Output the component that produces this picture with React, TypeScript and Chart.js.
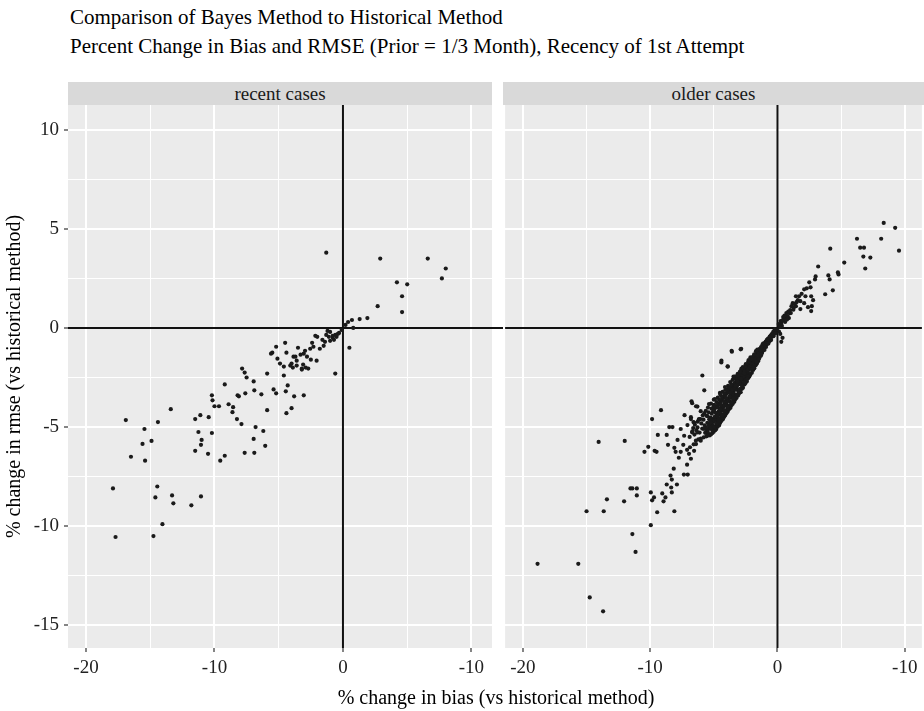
import React, { useEffect, useRef } from "react";
import { Chart, registerables } from "chart.js";

Chart.register(...registerables);

// ---------- text ----------
const TITLE = "Comparison of Bayes Method to Historical Method";
const SUBTITLE = "Percent Change in Bias and RMSE (Prior = 1/3 Month), Recency of 1st Attempt";
const PANEL_LABELS = ["recent cases", "older cases"];
const X_TITLE = "% change in bias (vs historical method)";
const Y_TITLE = "% change in rmse (vs historical method)";

// ---------- axes ----------
const X_TICKS = [-20, -10, 0, 10];
const X_TICK_LABELS = ["-20", "-10", "0", "-10"];
const X_MINOR = [-15, -5, 5];
const Y_TICKS = [-15, -10, -5, 0, 5, 10];
const Y_TICK_LABELS = ["-15", "-10", "-5", "0", "5", "10"];
const Y_MINOR = [-12.5, -7.5, -2.5, 2.5, 7.5];
const X_MIN = -21.4;
const X_MAX_LEFT = 11.6;
const X_MAX_RIGHT = 11.35;
const Y_MIN = -16.15;
const Y_MAX = 11.25;

// ---------- data: [% change in bias, % change in rmse] ----------
const recentPoints: [number, number][] = [
  [-1.3, 3.8], [2.9, 3.5], [6.6, 3.5], [8.0, 3.0], [7.7, 2.5], [4.2, 2.3], [5.0, 2.2], [4.6, 1.6],
  [4.6, 0.8], [2.7, 1.1], [1.9, 0.5], [1.3, 0.45], [0.7, 0.4], [0.4, 0.3], [0.2, 0.15], [0.8, 0.0],
  [0.5, -1.0], [-0.6, -2.3], [-0.1, -0.1], [-0.3, -0.25], [-0.4, -0.3], [-0.6, -0.35], [-0.8, -0.4],
  [-1.0, -0.2], [-0.8, -0.5], [-1.1, -0.45], [-1.0, -0.65], [-1.2, -0.15], [-1.4, -0.7], [-1.5, -0.9],
  [-1.8, -1.05], [-2.0, -0.45], [-2.15, -0.4], [-2.3, -0.95], [-2.55, -1.05], [-2.95, -1.15],
  [-3.05, -1.3], [-2.8, -1.45], [-2.05, -1.65], [-3.2, -2.05], [-3.6, -1.65], [-3.85, -1.45],
  [-4.0, -1.8], [-4.5, -0.75], [-4.4, -1.25], [-5.1, -1.55], [-4.9, -1.8], [-5.5, -1.25], [-5.2, -0.95],
  [-5.6, -1.3], [-4.6, -1.95], [-3.1, -1.85], [-2.7, -2.05], [-3.2, -2.1], [-3.3, -1.35], [-3.7, -1.45],
  [-4.1, -1.9], [-4.6, -2.4], [-5.9, -2.3], [-7.85, -2.05], [-7.65, -2.25], [-7.5, -2.5], [-9.2, -2.85],
  [-6.95, -2.7], [-6.35, -3.35], [-6.9, -3.15], [-7.6, -3.3], [-8.2, -3.4], [-8.1, -3.45], [-5.4, -3.1],
  [-5.2, -3.3], [-4.3, -2.9], [-4.45, -3.2], [-3.8, -3.45], [-3.05, -3.4], [-4.0, -4.05], [-4.4, -4.3],
  [-5.9, -4.15], [-10.2, -3.4], [-10.15, -3.65], [-10.0, -3.95], [-9.65, -3.95], [-8.9, -3.85],
  [-8.55, -4.0], [-8.6, -4.25], [-8.25, -4.6], [-7.9, -4.85], [-13.4, -4.1], [-16.9, -4.65],
  [-14.4, -4.75], [-15.45, -5.1], [-14.9, -5.7], [-15.6, -5.85], [-16.5, -6.5], [-15.4, -6.7],
  [-11.5, -4.6], [-11.1, -4.4], [-10.45, -4.5], [-11.25, -5.25], [-10.2, -5.3], [-11.0, -5.65],
  [-11.05, -5.9], [-11.5, -6.2], [-10.5, -6.35], [-9.55, -6.7], [-9.2, -6.45], [-7.65, -6.3],
  [-6.9, -6.3], [-6.8, -5.0], [-6.2, -5.2], [-6.95, -5.6], [-6.05, -5.95], [-17.9, -8.1],
  [-17.7, -10.55], [-14.45, -8.0], [-14.6, -8.55], [-13.3, -8.45], [-13.2, -8.85], [-11.8, -8.95],
  [-11.05, -8.5], [-14.05, -9.9], [-14.75, -10.5],
  [-0.5, -0.45], [-0.7, -0.6], [-1.3, -0.35], [-1.6, -0.6], [-2.4, -0.75], [-3.5, -1.0], [-2.5, -1.6],
  [-3.6, -1.9], [-3.9, -2.0], [-2.9, -2.0],
];

const olderUpper: [number, number][] = [
  [8.35, 5.3], [9.25, 5.05], [8.15, 4.5], [9.55, 3.9], [6.25, 4.5], [6.5, 4.05], [6.8, 4.05], [6.75, 3.6],
  [7.3, 3.55], [6.9, 3.0], [4.15, 4.0], [5.25, 3.3], [3.2, 3.1], [4.0, 2.65], [4.1, 2.45], [4.75, 2.8],
  [4.8, 2.7], [3.75, 1.7], [4.35, 1.9], [2.95, 2.45], [2.6, 2.05], [2.3, 2.0], [2.1, 1.95], [2.65, 1.6],
  [2.8, 1.4], [2.65, 0.85], [2.1, 1.25], [2.4, 1.05], [1.7, 1.6], [1.45, 1.6], [1.2, 1.25], [1.3, 1.05],
  [1.8, 0.95], [0.95, 0.75], [2.2, 1.6], [1.8, 1.35], [1.45, 1.1], [1.05, 0.75], [0.65, 0.5], [0.3, 0.25],
  [2.7, 1.1], [0.4, -0.5], [0.3, -0.7], [2.5, 2.3], [3.0, 2.6], [1.6, 1.4], [1.0, 0.9], [0.8, 0.6],
  [0.5, 0.45], [0.6, 0.3], [0.2, 0.1], [0.1, 0.2], [0.35, 0.1], [0.9, 0.5], [1.1, 1.1], [1.5, 1.3],
  [0.7, 0.75], [0.45, 0.55], [0.25, 0.35], [0.55, 0.62], [0.85, 0.82], [1.25, 0.92], [0.15, 0.05],
  [0.4, 0.38], [0.75, 0.42], [1.35, 1.22], [1.9, 1.72], [0.12, -0.18], [0.22, -0.3],
];

const olderCore: [number, number][] = [
  [-0.05, -0.08], [-0.12, -0.1], [-0.18, -0.22], [-0.22, -0.12], [-0.28, -0.31], [-0.33, -0.2],
  [-0.36, -0.39], [-0.41, -0.28], [-0.47, -0.46], [-0.52, -0.37], [-0.55, -0.58], [-0.61, -0.44],
  [-0.66, -0.63], [-0.7, -0.52], [-0.76, -0.74], [-0.81, -0.6], [-0.86, -0.83], [-0.92, -0.69],
  [-0.97, -0.94], [-1.02, -0.77], [-0.2, -0.06], [-0.31, -0.42], [-0.44, -0.33], [-0.63, -0.67],
  [-0.77, -0.56], [-0.9, -0.96], [-1.06, -1.04], [-0.16, -0.27], [-0.5, -0.61], [-0.84, -0.62],
  [-1.08, -0.88], [-1.12, -1.12], [-1.17, -0.92], [-1.21, -1.24], [-1.26, -1.01], [-1.31, -1.4],
  [-1.34, -1.12], [-1.41, -1.49], [-1.46, -1.16], [-1.52, -1.68], [-1.56, -1.27], [-1.61, -1.79],
  [-1.67, -1.31], [-1.71, -1.88], [-1.76, -1.42], [-1.82, -2.04], [-1.86, -1.51], [-1.91, -2.12],
  [-1.96, -1.57], [-2.01, -2.26], [-1.13, -0.79], [-1.29, -0.97], [-1.44, -1.42], [-1.62, -1.21],
  [-1.74, -1.77], [-1.92, -1.46], [-1.24, -1.27], [-1.57, -1.49], [-1.84, -1.72], [-1.39, -1.06],
  [-1.69, -1.17], [-1.19, -0.86], [-2.06, -1.67], [-2.11, -2.33], [-2.14, -1.76], [-2.21, -2.45],
  [-2.26, -1.84], [-2.29, -2.52], [-2.36, -1.92], [-2.41, -2.7], [-2.44, -2.01], [-2.51, -2.78],
  [-2.56, -2.09], [-2.59, -2.85], [-2.66, -2.17], [-2.71, -3.02], [-2.74, -2.24], [-2.81, -3.08],
  [-2.86, -2.32], [-2.89, -3.24], [-2.96, -2.41], [-3.01, -3.3], [-2.12, -1.48], [-2.31, -1.72],
  [-2.49, -1.83], [-2.72, -1.98], [-2.88, -2.17], [-2.19, -2.02], [-2.42, -2.19], [-2.61, -2.37],
  [-2.79, -2.49], [-3.02, -2.62], [-2.34, -2.36], [-2.64, -2.61], [-2.94, -2.84], [-2.24, -2.28],
  [-2.54, -2.52], [-2.84, -2.79], [-3.06, -2.52], [-3.09, -3.41], [-3.16, -2.58], [-3.21, -3.52],
  [-3.24, -2.71], [-3.31, -3.6], [-3.36, -2.77], [-3.39, -3.73], [-3.46, -2.84], [-3.51, -3.82],
  [-3.54, -2.96], [-3.61, -3.9], [-3.66, -3.02], [-3.69, -4.03], [-3.76, -3.09], [-3.81, -4.1],
  [-3.84, -3.21], [-3.91, -4.22], [-3.96, -3.29], [-4.01, -4.31], [-3.12, -2.31], [-3.29, -2.44],
  [-3.52, -2.62], [-3.71, -2.73], [-3.88, -2.92], [-3.19, -2.96], [-3.44, -3.21], [-3.67, -3.38],
  [-3.86, -3.57], [-3.34, -3.36], [-3.74, -3.72], [-3.14, -3.12], [-3.56, -3.48], [-3.96, -3.9],
  [-4.06, -3.36], [-4.11, -4.42], [-4.14, -3.44], [-4.21, -4.5], [-4.26, -3.52], [-4.29, -4.61],
  [-4.36, -3.61], [-4.41, -4.7], [-4.44, -3.72], [-4.51, -4.8], [-4.56, -3.79], [-4.59, -4.92],
  [-4.66, -3.86], [-4.71, -4.98], [-4.74, -3.96], [-4.81, -5.1], [-4.86, -4.02], [-4.89, -5.16],
  [-4.96, -4.11], [-5.01, -5.24], [-4.12, -2.98], [-4.31, -3.22], [-4.52, -3.28], [-4.69, -3.52],
  [-4.91, -3.59], [-4.19, -3.87], [-4.42, -4.03], [-4.62, -4.22], [-4.79, -4.41], [-5.02, -4.58],
  [-4.24, -4.18], [-4.48, -4.37], [-4.76, -4.68], [-5.06, -4.21], [-5.11, -5.3], [-5.16, -4.33],
  [-5.21, -5.36], [-5.27, -4.52], [-5.31, -5.42], [-5.36, -4.61], [-5.42, -5.38], [-5.51, -4.79],
  [-5.58, -5.47], [-5.71, -4.92], [-5.79, -5.52], [-5.91, -5.08], [-6.02, -5.58], [-5.22, -3.82],
  [-5.46, -4.02], [-5.63, -4.18], [-5.87, -4.41], [-5.3, -4.95], [-5.55, -5.12],
];

const olderFill: [number, number][] = [
  [-0.58, -0.5], [-0.73, -0.66], [-0.88, -0.77], [-0.99, -0.85], [-1.04, -0.93], [-1.15, -1.01],
  [-1.22, -1.08], [-1.33, -1.19], [-1.37, -1.27], [-1.48, -1.31], [-1.53, -1.38], [-1.64, -1.45],
  [-1.73, -1.56], [-1.79, -1.61], [-1.88, -1.63], [-1.94, -1.77], [-2.03, -1.84], [-2.09, -1.93],
  [-2.17, -1.96], [-2.23, -2.11], [-2.28, -2.06], [-2.39, -2.14], [-2.46, -2.29], [-2.53, -2.33],
  [-2.57, -2.42], [-2.68, -2.46], [-2.76, -2.57], [-2.83, -2.62], [-2.91, -2.69], [-2.98, -2.77],
  [-3.04, -2.83], [-3.11, -2.79], [-3.18, -2.88], [-3.26, -3.04], [-3.33, -3.09], [-3.41, -3.03],
  [-3.48, -3.29], [-3.53, -3.34], [-3.62, -3.26], [-3.68, -3.52], [-3.77, -3.46], [-3.83, -3.63],
  [-3.92, -3.68], [-3.99, -3.61], [-4.03, -3.79], [-4.13, -3.92], [-4.18, -3.71], [-4.27, -4.02],
  [-4.33, -3.93], [-4.38, -4.18], [-4.47, -4.11], [-4.53, -4.27], [-4.61, -4.04], [-4.67, -4.43],
  [-4.73, -4.31], [-4.84, -4.56], [-4.93, -4.49], [-4.98, -4.74], [-5.07, -4.66], [-5.14, -4.88],
  [-5.24, -4.79], [-5.33, -5.07], [-5.39, -4.93], [-5.48, -5.19], [-5.61, -5.04], [-5.68, -5.29],
  [-1.47, -1.58], [-1.66, -1.7], [-1.81, -1.93], [-1.99, -2.08], [-2.16, -2.38], [-2.33, -2.44],
  [-2.47, -2.62], [-2.63, -2.74], [-2.77, -2.94], [-2.93, -3.07], [-3.07, -3.22], [-3.23, -3.38],
  [-3.37, -3.51], [-3.49, -3.64], [-3.63, -3.79], [-3.79, -3.92], [-3.93, -4.06], [-4.08, -4.23],
  [-4.23, -4.36], [-4.39, -4.53], [-4.54, -4.67], [-4.68, -4.81], [-4.83, -4.94], [-4.97, -5.07],
  [-5.12, -5.16], [-1.58, -1.09], [-1.83, -1.33], [-2.04, -1.58], [-2.27, -1.62], [-2.53, -1.94],
  [-2.69, -2.09], [-2.83, -2.05], [-3.08, -2.41], [-3.27, -2.58], [-3.43, -2.52], [-3.63, -2.87],
  [-3.82, -3.04], [-3.98, -3.12], [-4.17, -3.31], [-4.39, -3.45], [-4.58, -3.62], [-4.79, -3.74],
  [-4.98, -3.88], [-5.19, -4.07], [-5.4, -4.26], [-5.58, -4.43], [-5.81, -4.63], [-5.98, -4.82],
  [-6.26, -4.73], [-6.37, -5.16], [-6.62, -5.05], [-1.27, -1.35], [-1.02, -1.11], [-0.71, -0.79],
  [-2.58, -2.21], [-3.13, -2.68], [-3.58, -3.12], [-4.04, -3.54], [-4.46, -3.88], [-4.87, -4.27],
  [-5.26, -4.64], [-2.37, -2.57], [-2.86, -2.56], [-3.3, -2.92], [-3.72, -3.27], [-4.15, -4.16],
  [-4.63, -4.58], [-5.05, -4.95], [-5.45, -5.32], [-1.9, -1.99], [-2.22, -1.72], [-2.62, -2.28],
  [-3.0, -3.12], [-3.45, -3.57], [-3.9, -3.98], [-4.32, -4.41], [-4.77, -4.85], [-5.18, -5.03],
];

const olderTail: [number, number][] = [
  [-6.12, -5.28], [-6.21, -5.62], [-6.28, -5.02], [-6.41, -5.69], [-6.52, -5.38], [-6.58, -5.87],
  [-6.69, -5.22], [-6.87, -6.02], [-6.18, -4.62], [-6.49, -4.88], [-3.6, -1.15], [-2.85, -1.05],
  [-4.4, -1.65], [-3.9, -1.95], [-5.9, -2.4], [-9.15, -4.15], [-9.85, -4.6], [-6.7, -3.8],
  [-12.0, -5.7], [-14.05, -5.75], [-10.45, -6.25], [-10.15, -6.0], [-9.65, -6.2], [-9.5, -6.25],
  [-9.4, -5.4], [-8.7, -5.4], [-8.5, -5.0], [-8.25, -5.0], [-7.85, -5.65], [-8.1, -6.05], [-8.0, -6.25],
  [-7.6, -6.25], [-7.75, -6.55], [-8.6, -5.9], [-7.1, -6.15], [-6.95, -6.35], [-6.8, -6.6], [-7.1, -6.9],
  [-8.15, -7.1], [-8.4, -7.45], [-7.35, -7.4], [-7.05, -7.4], [-8.3, -7.65], [-8.7, -7.9], [-7.9, -7.9],
  [-8.35, -8.05], [-8.3, -8.3], [-9.05, -8.35], [-8.8, -8.55], [-8.95, -8.75], [-9.95, -8.3],
  [-9.7, -8.55], [-9.85, -8.7], [-9.45, -9.3], [-8.1, -9.25], [-9.95, -9.95], [-11.55, -8.1],
  [-11.4, -8.1], [-11.05, -8.1], [-11.05, -8.45], [-12.05, -8.75], [-13.4, -8.65], [-13.65, -9.25],
  [-15.0, -9.25], [-11.4, -10.4], [-11.15, -11.3], [-18.85, -11.9], [-15.65, -11.9], [-14.75, -13.6],
  [-13.7, -14.3], [-6.75, -3.7], [-5.75, -3.15], [-6.4, -3.95], [-6.8, -4.5], [-6.6, -4.75],
  [-6.05, -4.6], [-5.75, -4.3], [-6.29, -3.97], [-6.03, -4.2], [-5.5, -4.45], [-6.16, -4.6],
  [-6.55, -4.77], [-5.77, -5.1], [-6.29, -5.27], [-5.5, -5.44], [-6.03, -5.69], [-6.4, -5.86],
  [-6.55, -6.2], [-5.26, -4.77], [-5.0, -5.0], [-4.74, -4.45], [-4.5, -4.1], [-5.0, -3.95],
  [-7.07, -4.9], [-6.8, -4.6], [-7.33, -5.44], [-6.9, -5.5], [-6.7, -5.27], [-5.38, -3.84],
  [-5.0, -3.62], [-4.49, -3.37], [-4.1, -3.13], [-3.45, -2.45], [-2.94, -2.2], [-3.58, -1.2],
  [-2.89, -1.08], [-4.41, -1.74], [-3.92, -1.94], [-7.3, -4.4], [-7.6, -5.1], [-7.4, -5.9],
];

const olderPoints: [number, number][] = [...olderUpper, ...olderCore, ...olderFill, ...olderTail];

// ---------- styles ----------
const FONT = "'Liberation Serif', 'Times New Roman', serif";
const PANEL_BG = "#EBEBEB";
const STRIP_BG = "#D9D9D9";
const POINT_COLOR = "#1a1a1a";

const panelBackground = {
  id: "panelBackground",
  beforeDraw(chart: any) {
    const { ctx, chartArea } = chart;
    ctx.save();
    ctx.fillStyle = PANEL_BG;
    ctx.fillRect(chartArea.left, chartArea.top, chartArea.right - chartArea.left, chartArea.bottom - chartArea.top);
    ctx.restore();
  },
};

const referenceLines = {
  id: "referenceLines",
  beforeDatasetsDraw(chart: any, _args: any, opts: any) {
    const { ctx, chartArea, scales } = chart;
    const x0 = scales.x.getPixelForValue(0);
    const y0 = scales.y.getPixelForValue(0);
    ctx.save();
    ctx.strokeStyle = "#111";
    ctx.lineWidth = 2;
    ctx.beginPath();
    ctx.moveTo(x0, chartArea.top);
    ctx.lineTo(x0, chartArea.bottom);
    ctx.moveTo(chartArea.left, y0);
    ctx.lineTo(chartArea.right + (opts.extendRight || 0), y0);
    ctx.stroke();
    ctx.restore();
  },
};

function panelConfig(points: [number, number][], showY: boolean, xMax: number, gapRight: number): any {
  const tickFont = { family: FONT, size: 19 };
  return {
    type: "scatter",
    data: {
      datasets: [
        {
          data: points.map(([x, y]) => ({ x, y })),
          pointRadius: 2.1,
          pointHoverRadius: 2.1,
          pointBackgroundColor: POINT_COLOR,
          pointBorderWidth: 0,
          borderWidth: 0,
        },
      ],
    },
    options: {
      animation: false,
      responsive: false,
      events: [],
      layout: { padding: { top: 23, right: gapRight, left: 0, bottom: 0 } },
      plugins: {
        legend: { display: false },
        tooltip: { enabled: false },
        referenceLines: { extendRight: gapRight },
      },
      scales: {
        x: {
          type: "linear",
          min: X_MIN,
          max: xMax,
          afterBuildTicks: (scale: any) => {
            scale.ticks = [...X_TICKS, ...X_MINOR].sort((a, b) => a - b).map((v) => ({ value: v }));
          },
          afterFit: (scale: any) => {
            scale.height = 63;
          },
          ticks: {
            autoSkip: false,
            maxRotation: 0,
            padding: 5,
            color: "#222",
            font: tickFont,
            callback: (v: number) => {
              const i = X_TICKS.indexOf(v);
              return i >= 0 ? X_TICK_LABELS[i] : "";
            },
          },
          grid: {
            color: "#ffffff",
            lineWidth: (c: any) => (X_TICKS.includes(c.tick && c.tick.value) ? 2 : 1),
            tickColor: (c: any) => (X_TICKS.includes(c.tick && c.tick.value) ? "#333" : "rgba(0,0,0,0)"),
            tickWidth: 1.2,
            tickLength: 4,
            drawTicks: true,
          },
          border: { display: false },
        },
        y: {
          type: "linear",
          min: Y_MIN,
          max: Y_MAX,
          afterBuildTicks: (scale: any) => {
            scale.ticks = [...Y_TICKS, ...Y_MINOR].sort((a, b) => a - b).map((v) => ({ value: v }));
          },
          afterFit: (scale: any) => {
            scale.width = showY ? 68 : 0;
          },
          ticks: {
            display: showY,
            autoSkip: false,
            padding: 5,
            color: "#222",
            font: tickFont,
            callback: (v: number) => {
              const i = Y_TICKS.indexOf(v);
              return i >= 0 ? Y_TICK_LABELS[i] : "";
            },
          },
          title: {
            display: showY,
            text: Y_TITLE,
            color: "#000",
            font: { family: FONT, size: 20 },
            padding: { top: 3, bottom: 0 },
          },
          grid: {
            color: "#ffffff",
            lineWidth: (c: any) => (Y_TICKS.includes(c.tick && c.tick.value) ? 2 : 1),
            tickColor: (c: any) =>
              showY && Y_TICKS.includes(c.tick && c.tick.value) ? "#333" : "rgba(0,0,0,0)",
            tickWidth: 1.2,
            tickLength: showY ? 4 : 0,
            drawTicks: showY,
          },
          border: { display: false },
        },
      },
    },
    plugins: [panelBackground, referenceLines],
  };
}

export default function App() {
  const leftRef = useRef<HTMLCanvasElement>(null);
  const rightRef = useRef<HTMLCanvasElement>(null);

  useEffect(() => {
    const left = new Chart(leftRef.current as HTMLCanvasElement, panelConfig(recentPoints, true, X_MAX_LEFT, 11));
    const right = new Chart(rightRef.current as HTMLCanvasElement, panelConfig(olderPoints, false, X_MAX_RIGHT, 0));
    return () => {
      left.destroy();
      right.destroy();
    };
  }, []);

  const text = (extra: React.CSSProperties): React.CSSProperties => ({
    position: "absolute",
    whiteSpace: "nowrap",
    fontFamily: FONT,
    color: "#000",
    ...extra,
  });

  return (
    <div
      style={{
        position: "absolute",
        left: 0,
        top: 0,
        width: 924,
        height: 711,
        background: "#fff",
        overflow: "hidden",
      }}
    >
      <div style={text({ left: 70, top: 7, fontSize: 21, lineHeight: "21px" })}>{TITLE}</div>
      <div style={text({ left: 70, top: 36, fontSize: 21, lineHeight: "21px" })}>{SUBTITLE}</div>
      <div
        style={text({
          left: 68,
          top: 82,
          width: 424,
          height: 23,
          background: STRIP_BG,
          textAlign: "center",
          fontSize: 19,
          lineHeight: "23px",
          color: "#1a1a1a",
        })}
      >
        {PANEL_LABELS[0]}
      </div>
      <div
        style={text({
          left: 503,
          top: 82,
          width: 421,
          height: 23,
          background: STRIP_BG,
          textAlign: "center",
          fontSize: 19,
          lineHeight: "23px",
          color: "#1a1a1a",
        })}
      >
        {PANEL_LABELS[1]}
      </div>
      <canvas
        ref={leftRef}
        width={503}
        height={629}
        style={{ position: "absolute", left: 0, top: 82, width: 503, height: 629 }}
      />
      <canvas
        ref={rightRef}
        width={421}
        height={629}
        style={{ position: "absolute", left: 503, top: 82, width: 421, height: 629 }}
      />
      <div style={text({ left: 0, width: 992, top: 687, fontSize: 20, lineHeight: "20px", textAlign: "center" })}>
        {X_TITLE}
      </div>
    </div>
  );
}
